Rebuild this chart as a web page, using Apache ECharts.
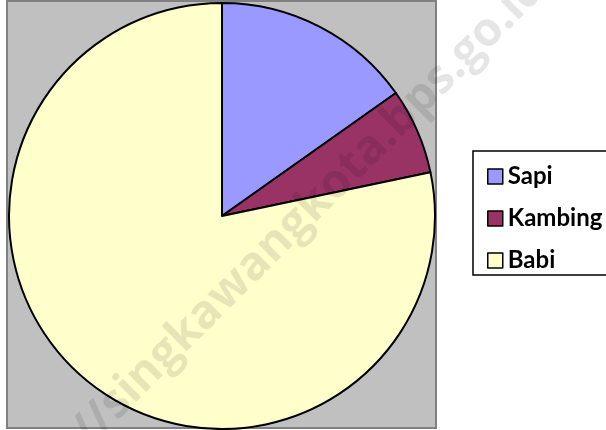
<!DOCTYPE html>
<html>
<head>
<meta charset="utf-8">
<script src="https://cdn.jsdelivr.net/npm/echarts@6/dist/echarts.min.js"></script>
<style>
  html, body { margin: 0; padding: 0; background: #fff; }
  #chart { width: 606px; height: 430px; }
</style>
</head>
<body>
<div id="chart"></div>
<script>
// jenis ternak dan persentase
const categories = ["Sapi", "Kambing", "Babi"];
const values = [15.2, 6.5, 78.3];
const colors = ["#9999FF", "#993366", "#FFFFCC"];

const chart = echarts.init(document.getElementById("chart"));

let data = [];
for (let i = 0; i < categories.length; i++) {
  data.push({ name: categories[i], value: values[i], itemStyle: { color: colors[i] } });
}

const option = {
  animation: false,
  backgroundColor: "#fff",
  graphic: [
    {
      type: "rect",
      shape: { x: 7, y: 1, width: 429, height: 427 },
      style: { fill: "#C0C0C0", stroke: "#808080", lineWidth: 2 },
      z: -10
    },
    {
      type: "rect",
      shape: { x: 473, y: 151, width: 140, height: 124 },
      style: { fill: "#fff", stroke: "#000", lineWidth: 1.5 },
      z: -10
    },
    {
      // watermark
      type: "text",
      x: 80,
      y: 439,
      rotation: 0.785,
      style: {
        text: "//singkawangkota.bps.go.id",
        font: "bold 47px 'Open Sans'",
        fill: "rgba(0,0,0,0.1)",
        verticalAlign: "middle"
      },
      z: 100
    }
  ],
  legend: {
    orient: "vertical",
    left: 482,
    top: 158,
    itemWidth: 15,
    itemHeight: 15,
    itemGap: 15,
    icon: "rect",
    itemStyle: { borderColor: "#000", borderWidth: 1.5 },
    textStyle: {
      fontFamily: "Lato",
      fontWeight: "bold",
      fontSize: 24,
      lineHeight: 27,
      color: "#000"
    },
    data: categories
  },
  series: [
    {
      type: "pie",
      center: [222, 216],
      radius: 213,
      startAngle: 90,
      clockwise: true,
      label: { show: false },
      labelLine: { show: false },
      itemStyle: { borderColor: "#000", borderWidth: 2 },
      emphasis: { disabled: true },
      data: data
    }
  ]
};

chart.setOption(option);
</script>
</body>
</html>
